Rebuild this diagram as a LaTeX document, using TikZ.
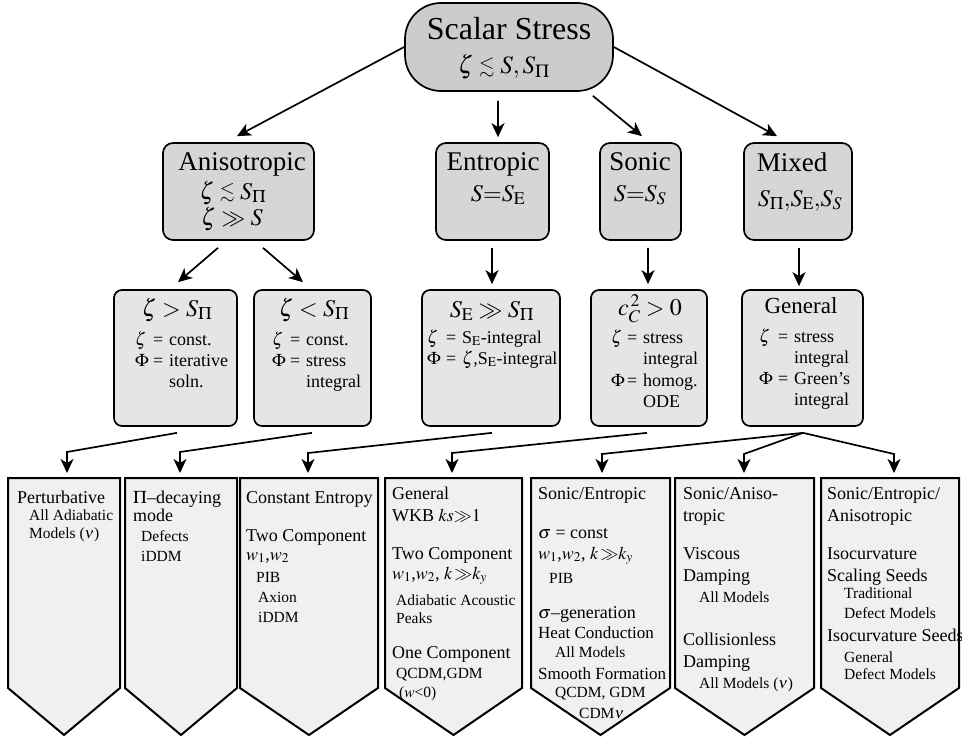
\documentclass[tikz,border=0pt]{standalone}
\usepackage{amssymb}
\usepackage{mathptmx}
\usepackage{fontspec}
\setmainfont{Liberation Serif}
\usetikzlibrary{arrows.meta,calc}
\definecolor{gT}{gray}{0.80}
\definecolor{gA}{gray}{0.84}
\definecolor{gB}{gray}{0.90}
\definecolor{gP}{gray}{0.94}
\newcommand\fsz[1]{\fontsize{#1bp}{#1bp}\selectfont}
\newcommand\eqlab[2]{\llap{\makebox[#1][l]{$#2$\hfill=\hspace{6bp}}}}
\newcommand\lsim{\mathrel{\raisebox{0.05em}{\scalebox{0.8}{$\lesssim$}}}}
\begin{document}
\begin{tikzpicture}[x=1bp,y=-1bp,
  pill/.style={draw, line width=1.7bp, fill=gT, rounded corners=36bp, minimum width=208bp, minimum height=88bp, inner sep=0},
  catbox/.style={draw, line width=1.7bp, fill=gA, rounded corners=10bp, minimum height=97bp, inner sep=0},
  subbox/.style={draw, line width=1.7bp, fill=gB, rounded corners=8bp, minimum height=136bp, inner sep=0},
  pent/.style={draw, line width=2bp, fill=gP, line join=miter},
  conn/.style={line width=1.7bp, -{Stealth[length=14bp,width=13bp,inset=4bp]}},
  tx/.style={inner sep=0, anchor=base west},
  tb/.style={inner sep=0, anchor=base},
  fhead/.style={font=\fsz{18}},
  fsub/.style={font=\fsz{15.5}},
  fmed/.style={font=\fsz{17}},
  frow/.style={font=\fsz{18}}]
\useasboundingbox (0,0) rectangle (962,739);

% ---------- top node ----------
\node[pill] (T) at (509,47) {};
\node[tb, font=\fsz{32}] (Tt1) at (509,40) {Scalar Stress};
\node[tb, font=\fsz{25}] (Tt2) at (504,74) {$\zeta\lsim S, S_\Pi$};

% ---------- category boxes ----------
\node[catbox, minimum width=151bp] (A) at (238.5,191.5) {};
\node[catbox, minimum width=113bp] (E) at (492.5,191.5) {};
\node[catbox, minimum width=81bp]  (S) at (640.5,191.5) {};
\node[catbox, minimum width=108bp] (M) at (798,191.5) {};

\node[tb, font=\fsz{27}] (At1) at (242,170) {Anisotropic};
\node[tb, font=\fsz{24}] (At2) at (233,199) {$\zeta\lsim S_\Pi$};
\node[tb, font=\fsz{24}] (At3) at (232,225) {$\zeta\gg S$};
\node[tb, font=\fsz{27}] (Et1) at (493,170) {Entropic};
\node[tb, font=\fsz{24}] (Et2) at (498,201) {$S{=}S_{\mathrm{E}}$};
\node[tb, font=\fsz{27}] (St1) at (640,170) {Sonic};
\node[tb, font=\fsz{24}] (St2) at (640,201) {$S{=}S_S$};
\node[tb, font=\fsz{27}] (Mt1) at (792,171) {Mixed};
\node[tb, font=\fsz{24}] (Mt2) at (800,206) {$S_\Pi{,}S_{\mathrm{E}}{,}S_S$};

% ---------- sub boxes ----------
\node[subbox, minimum width=123bp] (B1) at (175.5,358) {};
\node[subbox, minimum width=117bp] (B2) at (312.5,358) {};
\node[subbox, minimum width=138bp] (B3) at (491,358) {};
\node[subbox, minimum width=116bp] (B4) at (649,358) {};
\node[subbox, minimum width=121bp] (B5) at (802.5,358) {};

\node[tb, font=\fsz{24}] (h1) at (177,316) {$\zeta > S_\Pi$};
\node[tb, font=\fsz{24}] (h2) at (314,316) {$\zeta < S_\Pi$};
\node[tb, font=\fsz{24}] (h3) at (492,317) {$S_{\mathrm{E}} \gg S_\Pi$};
\node[tb, font=\fsz{24}] (h4) at (650,315) {$c_C^{\,2} > 0$};
\node[tb, font=\fsz{23}] (h5) at (801,313) {General};

\node[tx, frow] (b1a) at (169,345) {\eqlab{34bp}{\zeta}const.};
\node[tx, frow] (b1b) at (169,366) {\eqlab{34bp}{\Phi}iterative};
\node[tx, frow] (b1c) at (169,387) {soln.};
\node[tx, frow] (b2a) at (306,345) {\eqlab{34bp}{\zeta}const.};
\node[tx, frow] (b2b) at (306,366) {\eqlab{34bp}{\Phi}stress};
\node[tx, frow] (b2c) at (306,387) {integral};
\node[tx, frow] (b3a) at (462,343) {\eqlab{35bp}{\zeta}S$_{\mathrm{E}}$-integral};
\node[tx, frow] (b3b) at (462,364) {\eqlab{35bp}{\Phi}$\zeta$,S$_{\mathrm{E}}$-integral};
\node[tx, frow] (b4a) at (643,343) {\eqlab{32bp}{\zeta}stress};
\node[tx, frow] (b4b) at (643,364) {integral};
\node[tx, frow] (b4c) at (643,386) {\eqlab{32bp}{\Phi}homog.};
\node[tx, frow] (b4d) at (643,407) {ODE};
\node[tx, frow] (b5a) at (794,342) {\eqlab{35bp}{\zeta}stress};
\node[tx, frow] (b5b) at (794,363) {integral};
\node[tx, frow] (b5c) at (794,384) {\eqlab{35bp}{\Phi}Green's};
\node[tx, frow] (b5d) at (794,405) {integral};

% ---------- bottom pentagons ----------
\draw[pent] (8,478) -- (120,478) -- (120,688) -- (64,735) -- (8,688) -- cycle;
\draw[pent] (125,478) -- (237,478) -- (237,688) -- (181,735) -- (125,688) -- cycle;
\draw[pent] (240,478) -- (378,478) -- (378,688) -- (309,735) -- (240,688) -- cycle;
\draw[pent] (385,478) -- (522,478) -- (522,688) -- (453.5,735) -- (385,688) -- cycle;
\draw[pent] (531,478) -- (670,478) -- (670,688) -- (600.5,735) -- (531,688) -- cycle;
\draw[pent] (675,478) -- (814,478) -- (814,688) -- (744.5,735) -- (675,688) -- cycle;
\draw[pent] (821,478) -- (959,478) -- (959,688) -- (890,735) -- (821,688) -- cycle;

\coordinate (P1) at (67,478);
\coordinate (P2) at (180,478);
\coordinate (P3) at (308,478);
\coordinate (P4) at (452,478);
\coordinate (P5) at (602,478);
\coordinate (P6) at (744,478);
\coordinate (P7) at (894,478);

% pentagon 1
\node[tx, fhead] (q11) at (17,503) {Perturbative};
\node[tx, fsub]  (q12) at (29,520) {All Adiabatic};
\node[tx, fsub]  (q13) at (29,538) {Models ($\nu$)};
% pentagon 2
\node[tx, fhead] (q21) at (133,503) {$\Pi$--decaying};
\node[tx, fhead] (q22) at (133,521) {mode};
\node[tx, fsub]  (q23) at (141,541) {Defects};
\node[tx, fsub]  (q24) at (141,561) {iDDM};
% pentagon 3
\node[tx, fhead] (q31) at (246,503) {Constant Entropy};
\node[tx, fhead] (q32) at (246,541) {Two Component};
\node[tx, fhead] (q33) at (246,560) {$w_1$,$w_2$};
\node[tx, fsub]  (q34) at (256,582) {PIB};
\node[tx, fsub]  (q35) at (258,602) {Axion};
\node[tx, fsub]  (q36) at (258,622) {iDDM};
% pentagon 4
\node[tx, fhead] (q41) at (392,499) {General};
\node[tx, fhead] (q42) at (392,521) {WKB $ks{\gg}1$};
\node[tx, fhead] (q43) at (392,559) {Two Component};
\node[tx, fhead] (q44) at (392,579) {$w_1$,$w_2$, $k\,{\gg}k_y$};
\node[tx, fsub]  (q45) at (396,605) {Adiabatic Acoustic};
\node[tx, fsub]  (q46) at (396,623) {Peaks};
\node[tx, fhead] (q47) at (392,658) {One Component};
\node[tx, fsub]  (q48) at (396,678) {QCDM,GDM};
\node[tx, fsub]  (q49) at (399,697) {($w$<0)};
% pentagon 5
\node[tx, fhead] (q51) at (538,499) {Sonic/Entropic};
\node[tx, fhead] (q52) at (538,538) {$\sigma$ = const};
\node[tx, fhead] (q53) at (538,559) {$w_1$,$w_2$, $k\,{\gg}k_y$};
\node[tx, fsub]  (q54) at (549,583) {PIB};
\node[tx, fhead] (q55) at (538,618) {$\sigma$--generation};
\node[tx, fmed]  (q56) at (538,638) {Heat Conduction};
\node[tx, fsub]  (q57) at (555,657) {All Models};
\node[tx, fmed]  (q58) at (538,679) {Smooth Formation};
\node[tx, fsub]  (q59) at (555,697) {QCDM, GDM};
\node[tx, fsub]  (q5a) at (579,718) {CDM$\nu$};
% pentagon 6
\node[tx, fhead] (q61) at (683,499) {Sonic/Aniso-};
\node[tx, fhead] (q62) at (683,521) {tropic};
\node[tx, fhead] (q63) at (683,559) {Viscous};
\node[tx, fhead] (q64) at (683,581) {Damping};
\node[tx, fsub]  (q65) at (699,602) {All Models};
\node[tx, fhead] (q66) at (683,645) {Collisionless};
\node[tx, fhead] (q67) at (683,667) {Damping};
\node[tx, fsub]  (q68) at (699,688) {All Models ($\nu$)};
% pentagon 7
\node[tx, fhead] (q71) at (827,499) {Sonic/Entropic/};
\node[tx, fhead] (q72) at (827,521) {Anisotropic};
\node[tx, fhead] (q73) at (827,559) {Isocurvature};
\node[tx, fhead] (q74) at (827,581) {Scaling Seeds};
\node[tx, fsub]  (q75) at (844,598) {Traditional};
\node[tx, fsub]  (q76) at (844,618) {Defect Models};
\node[tx, fhead] (q77) at (827,641) {Isocurvature Seeds};
\node[tx, fsub]  (q78) at (844,662) {General};
\node[tx, fsub]  (q79) at (844,679) {Defect Models};

% ---------- connectors top ----------
\draw[conn] (T.west) -- ($(A.north)+(-1.5,-6)$);
\draw[conn] ($(T.south)+(-11,9)$) -- ($(E.north)+(5.5,-5)$);
\draw[conn] ($(T.south east)+(-21,4)$) -- ($(S.north)+(1.5,-6)$);
\draw[conn] (T.east) -- ($(M.north)+(-21,-6)$);

\draw[conn] ($(A.south)+(-20.5,7)$) -- ($(B1.north)+(2.5,-7)$);
\draw[conn] ($(A.south)+(24.5,7)$) -- ($(B2.north)+(-9.5,-7)$);
\draw[conn] ($(E.south)+(-0.5,7)$) -- ($(B3.north)+(1,-5)$);
\draw[conn] ($(S.south)+(7.5,7)$) -- ($(B4.north)+(-1,-5)$);
\draw[conn] ($(M.south)+(1,7)$) -- ($(B5.north)+(-3.5,-3)$);

% ---------- connectors bottom ----------
\coordinate (c1) at ($(B1.south)+(1.5,6)$);
\coordinate (c2) at ($(B2.south)+(-0.5,6)$);
\coordinate (c3) at ($(B3.south)+(1,6)$);
\coordinate (c4) at ($(B4.south)+(-2,6)$);
\coordinate (c5) at ($(B5.south)+(0.5,6)$);
\coordinate (k1) at (67,452);
\coordinate (k2) at (180,452);
\coordinate (k3) at (308,453);
\coordinate (k4) at (452,453);
\coordinate (k5) at (602,454);
\coordinate (k6) at (744,454);
\coordinate (k7) at (894,454);
\draw[conn, shorten >=5bp] (c1) -- (k1) -- (P1);
\draw[conn, shorten >=5bp] (c2) -- (k2) -- (P2);
\draw[conn, shorten >=5bp] (c3) -- (k3) -- (P3);
\draw[conn, shorten >=5bp] (c4) -- (k4) -- (P4);
\draw[conn, shorten >=5bp] (c5) -- (k5) -- (P5);
\draw[conn, shorten >=5bp] (c5) -- (k6) -- (P6);
\draw[conn, shorten >=5bp] (c5) -- (k7) -- (P7);
\end{tikzpicture}
\end{document}
